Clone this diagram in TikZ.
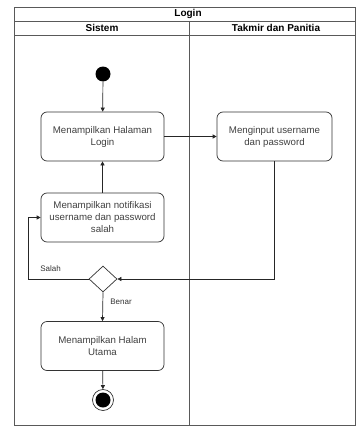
\documentclass[tikz,border=0pt]{standalone}
\usepackage{fontspec}
\setmainfont{Liberation Sans}
\usetikzlibrary{shapes.geometric,arrows.meta}
\begin{document}
\begin{tikzpicture}[x=1pt,y=-1pt,
  act/.style={draw=black!80, line width=0.7pt, rounded corners=6pt, minimum width=123pt, minimum height=49pt, align=center, inner sep=2pt, font=\fontsize{9.7}{12}\selectfont, text=black!75},
  flow/.style={-{Triangle[length=4pt,width=4pt]}, line width=0.7pt, draw=black!85},
  lane/.style={draw=black!65, line width=0.8pt},
  hdr/.style={font=\bfseries\fontsize{10}{11}\selectfont, inner sep=0pt},
  lbl/.style={font=\fontsize{8}{9}\selectfont, text=black!80, inner sep=0pt}]
\useasboundingbox (0,0) rectangle (356,428);
% pool
\draw[lane] (14,7) rectangle (355,425);
\draw[lane] (14,21) -- (355,21);
\draw[lane] (14,35) -- (355,35);
\draw[lane] (189,21) -- (189,425);
\node[hdr] (title) at (188,14) {Login};
\node[hdr] (lane1) at (102,28) {Sistem};
\node[hdr] (lane2) at (276,28) {Takmir dan Panitia};
% nodes
\node[circle, fill=black, inner sep=0pt, minimum size=15pt] (start) at (103,74) {};
\node[act] (b1) at (102.5,136.5) {Menampilkan Halaman\\Login};
\node[act, minimum width=115pt] (b2) at (274.5,136.5) {Menginput username\\dan password};
\node[act] (b3) at (102.5,217.5) {Menampilkan notifikasi\\username dan password\\salah};
\node[diamond, draw=black!80, line width=0.7pt, inner sep=0pt, minimum width=28pt, minimum height=26pt] (d) at (103,279) {};
\node[act] (b4) at (102.5,346) {Menampilkan Halam\\Utama};
\node[circle, draw=black!80, line width=0.7pt, inner sep=0pt, minimum size=21pt] (end) at (103,400) {};
\node[circle, fill=black, inner sep=0pt, minimum size=15pt] (endin) at (end.center) {};
\coordinate (sl) at (28,279);
% connectors
\draw[flow] (start) -- (b1);
\draw[flow] (b1) -- (b2);
\draw[flow] (b3) -- (b1);
\draw[flow] (b2.south) |- (d.east);
\draw[flow] (d.west) -- (sl) |- (b3.west);
\draw[flow] (d.south) -- (b4.north);
\draw[flow] (b4) -- (end);
% labels
\node[lbl] (lsalah) at (50.5,269) {Salah};
\node[lbl] (lbenar) at (121,302) {Benar};
\end{tikzpicture}
\end{document}
